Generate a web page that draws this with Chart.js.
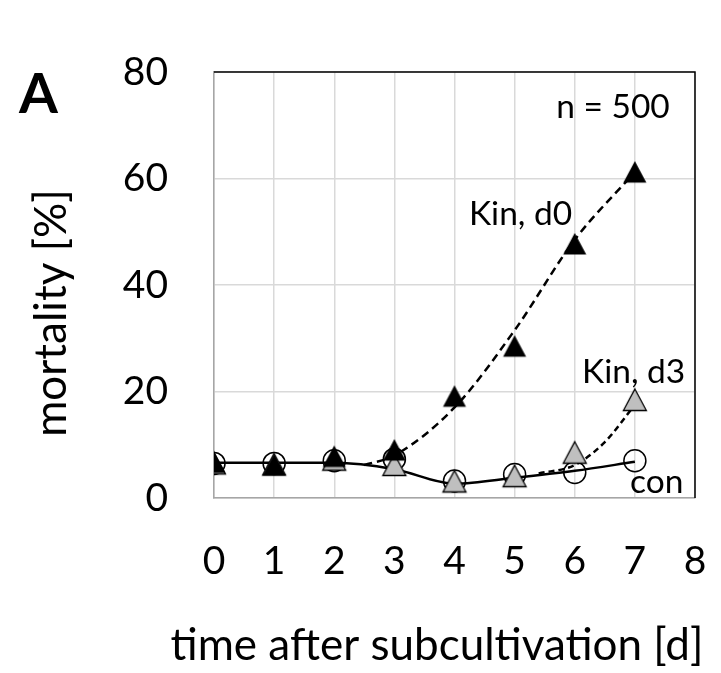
<!DOCTYPE html>
<html>
<head>
<meta charset="utf-8">
<script src="https://cdn.jsdelivr.net/npm/chart.js"></script>
<style>
  html, body { margin: 0; padding: 0; background: #fff; }
  #wrap { width: 721px; height: 673px; }
</style>
</head>
<body>
<div id="wrap"><canvas id="chart" width="721" height="673"></canvas></div>
<script>
// days after subcultivation
const days = [0, 1, 2, 3, 4, 5, 6, 7]
// mortality [%] per series (markers)
const kinD0 = [6.7, 6.2, 7.8, 9.0, 19.1, 28.5, 47.7, 61.2]
const kinD3 = [6.5, 6.3, 7.2, 6.2, 3.1, 4.1, 8.5, 18.4]
const con = [6.5, 6.5, 7.0, 7.3, 3.2, 4.4, 4.8, 7.0]
// smoothed trend lines as drawn in the figure
const kinD0TrendX = [2.5, 3, 4, 5, 6, 7]
const kinD0TrendY = [6.2, 8.0, 17.0, 31.5, 48.5, 61.2]
const kinD3TrendX = [5.4, 6, 6.5, 7]
const kinD3TrendY = [4.6, 6.2, 10.5, 17.5]
const conTrendX = [0, 1, 2, 3, 4, 5, 6, 7]
const conTrendY = [6.6, 6.6, 6.6, 5.4, 2.7, 3.8, 5.1, 6.8]
const xTicks = [0, 1, 2, 3, 4, 5, 6, 7, 8]
const yTicks = [0, 20, 40, 60, 80]

const xTitle = 'time after subcultivation [d]'
const yTitle = 'mortality [%]'

const FONT = 'Lato, "Open Sans", sans-serif'

// triangle marker centred on its bounding box (like the spreadsheet markers)
function triangleMarker(fill, stroke) {
    const c = document.createElement('canvas')
    c.width = 28; c.height = 26
    const g = c.getContext('2d')
    g.beginPath()
    g.moveTo(14, 2)
    g.lineTo(25.5, 23.5)
    g.lineTo(2.5, 23.5)
    g.closePath()
    g.fillStyle = fill
    g.fill()
    if (stroke) {
        g.lineWidth = 1.3
        g.strokeStyle = stroke
        g.stroke()
    }
    return c
}

const pts = (xs, ys) => xs.map((x, i) => ({x: x, y: ys[i]}))

const notes = [
    {text: 'n = 500', x: 7.58, y: 71.4, align: 'right'},
    {text: 'Kin, d0', x: 4.24, y: 51.3, align: 'left'},
    {text: 'Kin, d3', x: 6.12, y: 21.6, align: 'left'},
    {text: 'con', x: 6.92, y: 0.94, align: 'left'}
]

const decorations = {
    id: 'decorations',
    afterDatasetsDraw(chart) {
        const ctx = chart.ctx
        const {left, right, top, bottom} = chart.chartArea
        const xs = chart.scales.x, ys = chart.scales.y
        ctx.save()
        // plot-area outline on top and right
        ctx.strokeStyle = '#000'
        ctx.lineWidth = 1.5
        ctx.beginPath()
        ctx.moveTo(left, top)
        ctx.lineTo(right, top)
        ctx.lineTo(right, bottom)
        ctx.stroke()
        ctx.fillStyle = '#000'
        ctx.font = '33.5px ' + FONT
        ctx.textBaseline = 'alphabetic'
        notes.forEach(n => {
            ctx.textAlign = n.align
            ctx.fillText(n.text, xs.getPixelForValue(n.x), ys.getPixelForValue(n.y))
        })
        // panel letter
        ctx.font = 'bold 56px ' + FONT
        ctx.textAlign = 'left'
        ctx.fillText('A', 19, 113)
        // axis titles
        ctx.font = '44px ' + FONT
        ctx.textAlign = 'center'
        ctx.fillText(xTitle, 437, 660)
        ctx.translate(66, 313)
        ctx.rotate(-Math.PI / 2)
        ctx.fillText(yTitle, 0, 0)
        ctx.restore()
    }
}

new Chart(document.getElementById('chart'), {
    type: 'scatter',
    data: {
        datasets: [
            {
                label: 'Kin, d0',
                data: pts(days, kinD0),
                pointStyle: triangleMarker('#000'),
                pointRadius: 12,
                showLine: false
            },
            {
                label: 'Kin, d3',
                data: pts(days, kinD3),
                pointStyle: triangleMarker('#bfbfbf', '#000'),
                pointRadius: 12,
                showLine: false
            },
            {
                label: 'con',
                data: pts(days, con),
                pointStyle: 'circle',
                pointRadius: 11,
                pointBorderWidth: 1.5,
                pointBorderColor: '#000',
                pointBackgroundColor: 'rgba(0,0,0,0)',
                showLine: false
            },
            {
                label: 'Kin, d0 trend',
                data: pts(kinD0TrendX, kinD0TrendY),
                showLine: true,
                pointRadius: 0,
                borderColor: '#000',
                borderWidth: 2.5,
                borderDash: [8, 5],
                cubicInterpolationMode: 'monotone'
            },
            {
                label: 'Kin, d3 trend',
                data: pts(kinD3TrendX, kinD3TrendY),
                showLine: true,
                pointRadius: 0,
                borderColor: '#000',
                borderWidth: 2.5,
                borderDash: [6, 4],
                cubicInterpolationMode: 'monotone'
            },
            {
                label: 'con trend',
                data: pts(conTrendX, conTrendY),
                showLine: true,
                pointRadius: 0,
                borderColor: '#000',
                borderWidth: 2.5,
                cubicInterpolationMode: 'monotone'
            }
        ]
    },
    options: {
        responsive: false,
        animation: false,
        layout: {padding: {top: 72, right: 26, left: 0, bottom: 0}},
        plugins: {
            legend: {display: false},
            tooltip: {enabled: false}
        },
        scales: {
            x: {
                type: 'linear',
                min: 0,
                max: 8,
                afterFit: s => { s.height = 175; s.paddingLeft = 0; s.paddingRight = 0 },
                afterBuildTicks: s => { s.ticks = xTicks.map(v => ({value: v})) },
                grid: {color: '#d9d9d9', lineWidth: 1.5, drawTicks: false},
                border: {color: '#a6a6a6', width: 1.5},
                ticks: {
                    color: '#000',
                    padding: 40,
                    maxRotation: 0,
                    font: {family: FONT, size: 39}
                }
            },
            y: {
                type: 'linear',
                min: 0,
                max: 80,
                afterFit: s => { s.width = 214; s.paddingTop = 0; s.paddingBottom = 0 },
                afterBuildTicks: s => { s.ticks = yTicks.map(v => ({value: v})) },
                grid: {color: '#d9d9d9', lineWidth: 1.5, drawTicks: false},
                border: {color: '#a6a6a6', width: 1.5},
                ticks: {
                    color: '#000',
                    padding: 46,
                    font: {family: FONT, size: 39}
                }
            }
        }
    },
    plugins: [decorations]
})
</script>
</body>
</html>
